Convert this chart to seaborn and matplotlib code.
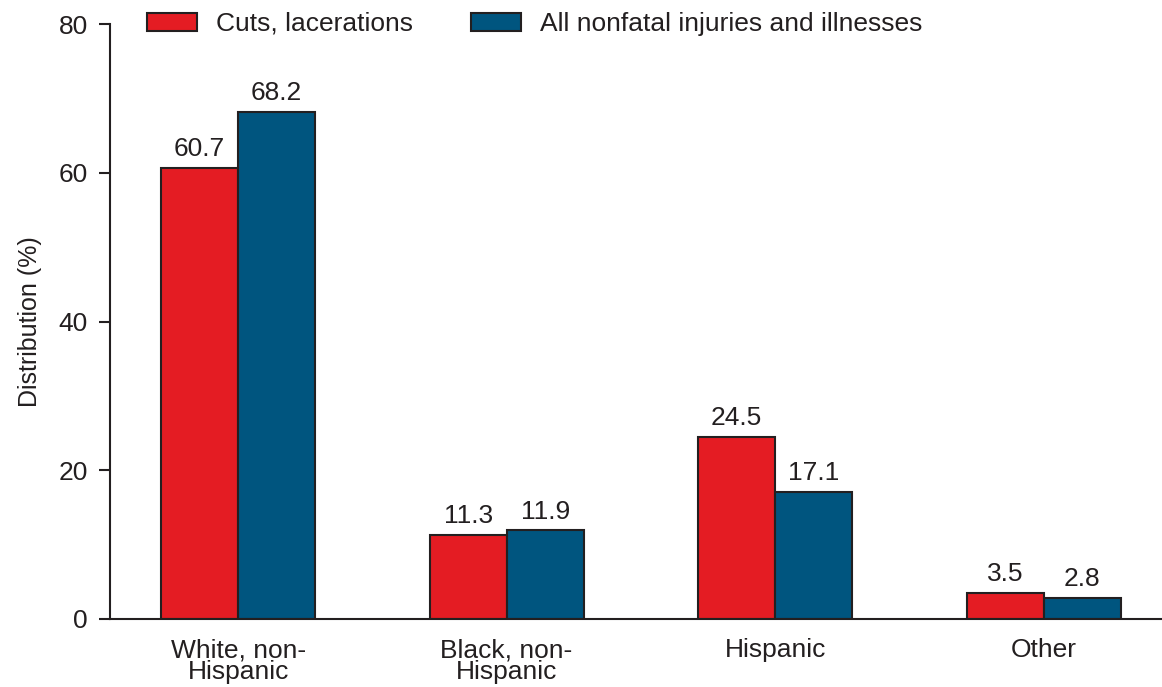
import matplotlib
matplotlib.use("Agg")
import matplotlib.pyplot as plt
import seaborn as sns
import pandas as pd

categories = ["White, non-\nHispanic", "Black, non-\nHispanic", "Hispanic", "Other"]
cuts = [60.7, 11.3, 24.5, 3.5]
all_injuries = [68.2, 11.9, 17.1, 2.8]
series_names = ["Cuts, lacerations", "All nonfatal injuries and illnesses"]
yticks = [0, 20, 40, 60, 80]

df = pd.DataFrame({
    "category": categories * 2,
    "value": cuts + all_injuries,
    "series": [series_names[0]] * 4 + [series_names[1]] * 4,
})

sns.set_style("ticks")
plt.rcParams["font.family"] = ["Liberation Sans", "DejaVu Sans"]
ink = "#231F20"
plt.rcParams["text.color"] = ink
plt.rcParams["axes.labelcolor"] = ink
plt.rcParams["xtick.color"] = ink
plt.rcParams["ytick.color"] = ink

fig = plt.figure(figsize=(11.62, 6.87), dpi=100)
ax = fig.add_axes([110 / 1162, 68 / 687, 1051 / 1162, 595 / 687])

palette = {series_names[0]: "#E41C23", series_names[1]: "#00557F"}
sns.barplot(data=df, x="category", y="value", hue="series", order=categories,
            hue_order=series_names, palette=palette, width=0.574, gap=0,
            edgecolor=ink, linewidth=1.5, saturation=1, ax=ax)

for c in ax.containers:
    ax.bar_label(c, fmt="%.1f", padding=5, fontsize=19, color=ink)

ax.set_xlim(-0.477, 3.437)
ax.set_ylim(0, 80)
ax.set_yticks(yticks)
ax.set_xlabel("")
ax.set_ylabel("Distribution (%)", fontsize=18, labelpad=12)
ax.tick_params(axis="y", length=8, width=1.5, pad=8, labelsize=19)
ax.tick_params(axis="x", length=0, pad=14, labelsize=19)
for lbl in ax.get_xticklabels():
    lbl.set_linespacing(0.85)
    lbl.set_verticalalignment("top")

sns.despine(ax=ax)
for s in ["left", "bottom"]:
    ax.spines[s].set_linewidth(1.5)
    ax.spines[s].set_color(ink)

ax.get_legend().remove()
handles, labels = ax.get_legend_handles_labels()
fig.legend(handles, labels, loc="center left", bbox_to_anchor=(147 / 1162, 1 - 24 / 687),
           ncol=2, frameon=False, fontsize=19, handlelength=1.89, handleheight=0.68,
           handletextpad=0.72, columnspacing=2.2, borderpad=0, borderaxespad=0)

fig.savefig("out.png", dpi=100)
